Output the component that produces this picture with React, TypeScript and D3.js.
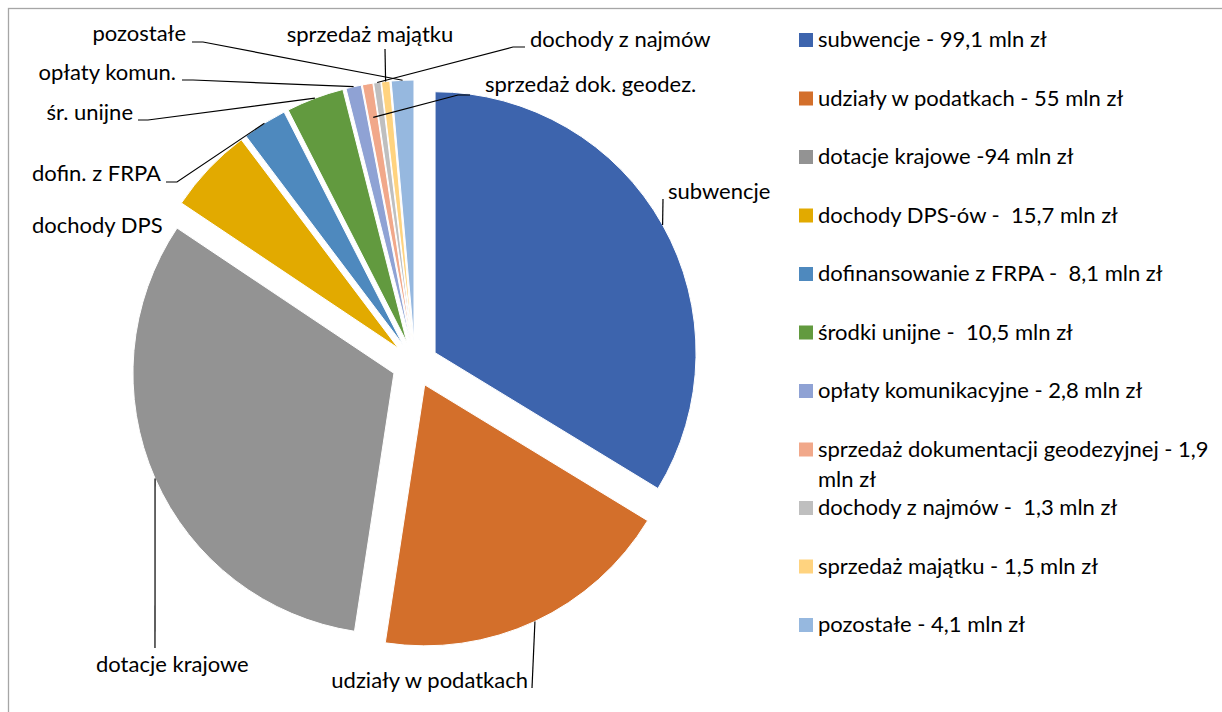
import { useMemo } from "react";
import * as d3 from "d3";

const categories = [
  "subwencje",
  "udziały w podatkach",
  "dotacje krajowe",
  "dochody DPS",
  "dofin. z FRPA",
  "śr. unijne",
  "opłaty komun.",
  "sprzedaż dok. geodez.",
  "dochody z najmów",
  "sprzedaż majątku",
  "pozostałe",
];
const values = [99.1, 55, 94, 15.7, 8.1, 10.5, 2.8, 1.9, 1.3, 1.5, 4.1];
const legendLabels = [
  "subwencje - 99,1 mln zł",
  "udziały w podatkach - 55 mln zł",
  "dotacje krajowe -94 mln zł",
  "dochody DPS-ów -  15,7 mln zł",
  "dofinansowanie z FRPA -  8,1 mln zł",
  "środki unijne -  10,5 mln zł",
  "opłaty komunikacyjne - 2,8 mln zł",
  "sprzedaż dokumentacji geodezyjnej - 1,9 mln zł",
  "dochody z najmów -  1,3 mln zł",
  "sprzedaż majątku - 1,5 mln zł",
  "pozostałe - 4,1 mln zł",
];
const colors = [
  "#3d64ad",
  "#d36f2b",
  "#939393",
  "#e2aa00",
  "#4e89be",
  "#629a3f",
  "#8fa2d4",
  "#f1a88a",
  "#bfbfbf",
  "#ffd37f",
  "#96b8df",
];

// label placement (Excel-style moved labels)
type Lay = { x: number; y: number; anchor: string; lead: number[][] | null; rf?: number };
const labelLayout: Lay[] = [
  { x: 668, y: 199, anchor: "start", lead: [[663, 199]] },
  { x: 528, y: 688, anchor: "end", lead: [[532, 688]] },
  { x: 96, y: 672, anchor: "start", lead: [[155, 648]] },
  { x: 32, y: 233, anchor: "start", lead: null },
  { x: 161, y: 181, anchor: "end", lead: [[166, 182], [177, 182]] },
  { x: 133, y: 120, anchor: "end", lead: [[138, 120], [148, 120]] },
  { x: 176, y: 80, anchor: "end", lead: [[182, 80], [193, 80]] },
  { x: 485, y: 92, anchor: "start", lead: [[470, 95], [458, 95]], rf: 0.87 },
  { x: 530, y: 47, anchor: "start", lead: [[525, 47], [513, 47]] },
  { x: 370, y: 42, anchor: "middle", lead: [[385, 49]] },
  { x: 186, y: 41, anchor: "end", lead: [[192, 42], [203, 42]] },
];

const W = 1222;
const H = 712;
const cx = 415;
const cy = 364;
const radius = 261;
const explode = 23;
const font = "Lato, 'Open Sans', sans-serif";
const fontSize = 22;
const legendX = 799;
const legendY = 33;
const legendStep = 58.5;
const legendMaxW = 400;

function wrap(text: string, maxW: number) {
  const ctx = document.createElement("canvas").getContext("2d")!;
  ctx.font = `${fontSize}px Lato`;
  const words = text.split(" ");
  const lines: string[] = [];
  let cur = "";
  words.forEach((w) => {
    const test = cur === "" ? w : cur + " " + w;
    if (ctx.measureText(test).width > maxW && cur !== "") {
      lines.push(cur);
      cur = w;
    } else cur = test;
  });
  lines.push(cur);
  return lines;
}

export default function App() {
  const arcs = useMemo(
    () => d3.pie<number>().sort(null).startAngle(0).endAngle(2 * Math.PI)(values),
    []
  );
  const arc = d3.arc<d3.PieArcDatum<number>>().innerRadius(0).outerRadius(radius);

  return (
    <svg
      width={W}
      height={H}
      style={{ position: "absolute", left: 0, top: 0, background: "#fff" }}
      fontFamily={font}
      fontSize={fontSize}
    >
      <rect x={8.5} y={8.5} width={W} height={H} fill="none" stroke="#a6a6a6" strokeWidth={1.3} />
      {arcs.map((a, i) => {
        const mid = (a.startAngle + a.endAngle) / 2;
        const ox = cx + Math.sin(mid) * explode;
        const oy = cy - Math.cos(mid) * explode;
        return (
          <path
            key={i}
            d={arc(a) || ""}
            transform={`translate(${ox},${oy})`}
            fill={colors[i]}
            stroke="#fff"
            strokeWidth={1}
          />
        );
      })}
      {arcs.map((a, i) => {
        const lay = labelLayout[i];
        const mid = (a.startAngle + a.endAngle) / 2;
        const rr = radius * (lay.rf ?? 1);
        const ex = cx + Math.sin(mid) * (explode + rr);
        const ey = cy - Math.cos(mid) * (explode + rr);
        const pts = lay.lead ? [...lay.lead, [ex, ey]] : null;
        return (
          <g key={i}>
            {pts && (
              <path
                d={d3.line()(pts as [number, number][]) || ""}
                fill="none"
                stroke="#000"
                strokeWidth={1.2}
              />
            )}
            <text x={lay.x} y={lay.y} textAnchor={lay.anchor} fill="#000" style={{ whiteSpace: "pre" }}>
              {categories[i]}
            </text>
          </g>
        );
      })}
      {legendLabels.map((t, i) => {
        const y = legendY + i * legendStep;
        const lines = wrap(t, legendMaxW);
        return (
          <g key={i}>
            <rect x={legendX} y={y} width={14} height={14} fill={colors[i]} />
            <text x={legendX + 19} y={y + 14} fill="#000" style={{ whiteSpace: "pre" }}>
              {lines.map((l, j) => (
                <tspan key={j} x={legendX + 19} dy={j === 0 ? 0 : 30}>
                  {l}
                </tspan>
              ))}
            </text>
          </g>
        );
      })}
    </svg>
  );
}
